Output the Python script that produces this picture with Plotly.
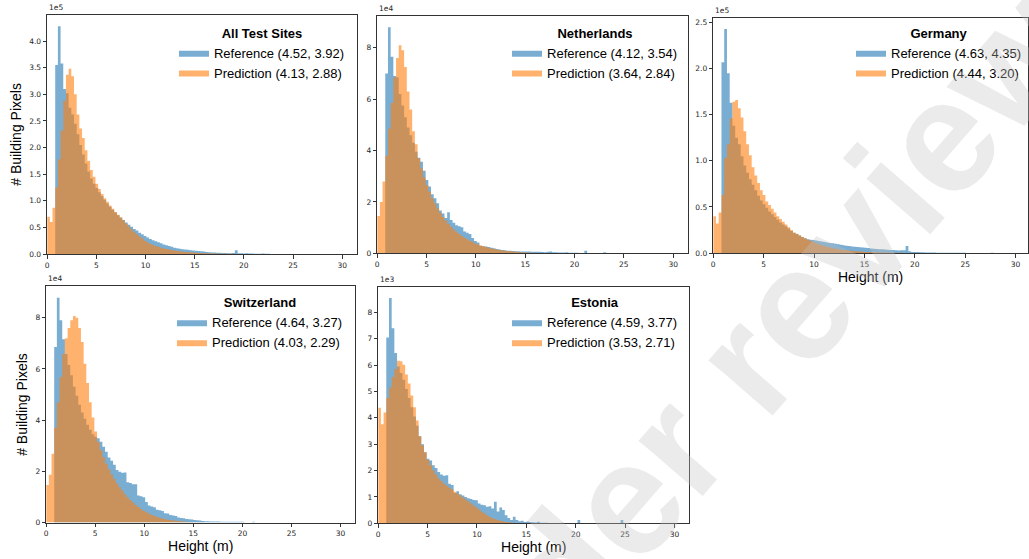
import numpy as np
import plotly.graph_objects as go

# ---------------- data (bin counts) ----------------
BIN_WIDTH = 30 / 110          # histogram bin width in metres
X_TICKS = [0, 5, 10, 15, 20, 25, 30]

panel_titles = ["All Test Sites", "Netherlands", "Germany", "Switzerland", "Estonia"]
ref_stats = ["(4.52, 3.92)", "(4.12, 3.54)", "(4.63, 4.35)", "(4.64, 3.27)", "(4.59, 3.77)"]
pred_stats = ["(4.13, 2.88)", "(3.64, 2.84)", "(4.44, 3.20)", "(4.03, 2.29)", "(3.53, 2.71)"]
scale_labels = ["1e5", "1e4", "1e5", "1e4", "1e3"]

y_ticks_all = [0, 0.5, 1.0, 1.5, 2.0, 2.5, 3.0, 3.5, 4.0]
y_ticks_nl = [0, 2, 4, 6, 8]
y_ticks_de = [0, 0.5, 1.0, 1.5, 2.0, 2.5]
y_ticks_ch = [0, 2, 4, 6, 8]
y_ticks_ee = [0, 1, 2, 3, 4, 5, 6, 7, 8]

# All test sites (x1e5)
all_ref = [0, 0, 0, 3.55, 4.28, 3.58, 3.10, 3.02, 2.75, 2.62, 2.45, 2.25, 2.05, 1.87, 1.70, 1.55,
           1.42, 1.32, 1.24, 1.16, 1.09, 1.02, 0.95, 0.89, 0.83, 0.78, 0.73, 0.68, 0.64, 0.59,
           0.55, 0.51, 0.47, 0.44, 0.40, 0.37, 0.34, 0.31, 0.28, 0.26, 0.24, 0.22, 0.20, 0.18,
           0.165, 0.15, 0.135, 0.12, 0.11, 0.10, 0.09, 0.085, 0.08, 0.072, 0.065, 0.06, 0.055,
           0.05, 0.045, 0.04, 0.035, 0.03, 0.028, 0.025, 0.022, 0.02, 0.018, 0.016, 0.014, 0.02,
           0.07, 0.015, 0.012, 0.01, 0.012, 0.01, 0.008, 0.006, 0.005, 0.004, 0.008, 0.004,
           0.003, 0.002, 0.001]
all_pred = [0.70, 0.60, 0.87, 1.25, 1.78, 2.32, 2.88, 3.37, 3.48, 3.34, 3.00, 2.62, 2.36, 2.18,
            1.95, 1.75, 1.58, 1.45, 1.32, 1.22, 1.13, 1.05, 0.98, 0.91, 0.85, 0.79, 0.74, 0.69,
            0.63, 0.57, 0.51, 0.46, 0.41, 0.37, 0.33, 0.29, 0.25, 0.22, 0.19, 0.17, 0.15, 0.135,
            0.12, 0.105, 0.095, 0.085, 0.075, 0.066, 0.058, 0.051, 0.045, 0.04, 0.035, 0.031,
            0.027, 0.024, 0.021, 0.018, 0.016, 0.014, 0.012, 0.01, 0.009, 0.008, 0.007, 0.006,
            0.005, 0.004, 0.0035, 0.003, 0.0025, 0.002, 0.0015, 0.001]

# Netherlands (x1e4)
nl_ref = [0, 0, 0, 7.0, 8.8, 7.65, 6.9, 6.85, 6.2, 5.75, 5.3, 4.9, 4.6, 4.3, 3.95, 3.72, 3.57,
          3.22, 2.86, 2.6, 2.3, 2.15, 1.95, 1.67, 1.55, 1.38, 1.6, 1.3, 1.19, 1.1, 1.06, 1.02,
          0.85, 0.8, 0.76, 0.6, 0.48, 0.42, 0.3, 0.28, 0.27, 0.25, 0.22, 0.2, 0.17, 0.15, 0.13,
          0.12, 0.1, 0.1, 0.09, 0.085, 0.08, 0.075, 0.07, 0.07, 0.07, 0.065, 0.06, 0.06, 0.06,
          0.055, 0.05, 0.06, 0.07, 0.05, 0.045, 0.04, 0.04, 0.035, 0.05, 0.03, 0.03, 0.025,
          0.025, 0.02, 0.02, 0.1, 0.02, 0.015, 0.015, 0.01, 0.01, 0.01, 0.05, 0.01, 0.005, 0.005]
nl_pred = [1.46, 2.0, 2.8, 3.8, 4.85, 5.85, 6.85, 7.6, 8.1, 7.9, 7.25, 6.3, 5.6, 4.75, 4.25, 3.7,
           3.3, 2.95, 2.65, 2.4, 2.15, 1.95, 1.75, 1.58, 1.42, 1.28, 1.15, 1.04, 0.93, 0.84,
           0.76, 0.68, 0.61, 0.55, 0.49, 0.44, 0.39, 0.35, 0.31, 0.28, 0.25, 0.22, 0.19, 0.17,
           0.15, 0.13, 0.115, 0.10, 0.09, 0.08, 0.07, 0.06, 0.052, 0.045, 0.04, 0.035, 0.03,
           0.026, 0.022, 0.019, 0.016, 0.014, 0.012, 0.01, 0.008, 0.007, 0.006, 0.005, 0.004, 0.003]

# Germany (x1e5)
de_ref = [0, 0, 0, 2.07, 2.43, 1.95, 1.63, 1.38, 1.25, 1.18, 1.05, 0.95, 0.87, 0.80, 0.74, 0.68,
          0.62, 0.57, 0.53, 0.49, 0.45, 0.42, 0.39, 0.36, 0.33, 0.31, 0.29, 0.265, 0.24, 0.22,
          0.205, 0.19, 0.175, 0.16, 0.15, 0.145, 0.14, 0.135, 0.13, 0.125, 0.12, 0.115, 0.11,
          0.105, 0.10, 0.095, 0.09, 0.085, 0.08, 0.075, 0.07, 0.068, 0.065, 0.062, 0.06, 0.057,
          0.054, 0.05, 0.047, 0.044, 0.042, 0.04, 0.038, 0.036, 0.034, 0.032, 0.03, 0.028, 0.03,
          0.03, 0.075, 0.02, 0.012, 0.01, 0.01, 0.008, 0.008, 0.006, 0.006, 0.005, 0.005, 0.004,
          0.004, 0.003, 0.003, 0.003, 0.002, 0.002, 0.002, 0.002, 0.002, 0.002, 0.001, 0.001,
          0.001, 0.001, 0.001, 0.001, 0.001, 0.001, 0.001, 0.004]
de_pred = [0.40, 0.32, 0.44, 0.63, 1.03, 1.18, 1.46, 1.64, 1.66, 1.57, 1.47, 1.32, 1.18, 1.06,
           0.93, 0.84, 0.76, 0.68, 0.63, 0.56, 0.52, 0.48, 0.44, 0.40, 0.37, 0.34, 0.31, 0.28,
           0.25, 0.22, 0.21, 0.19, 0.175, 0.16, 0.145, 0.13, 0.12, 0.105, 0.095, 0.085, 0.075,
           0.067, 0.06, 0.053, 0.047, 0.042, 0.037, 0.033, 0.029, 0.026, 0.023, 0.02, 0.018,
           0.016, 0.014, 0.012, 0.011, 0.01, 0.009, 0.008, 0.007, 0.006, 0.005, 0.0045, 0.004,
           0.0035, 0.003, 0.0025, 0.002, 0.0015, 0.001]

# Switzerland (x1e4)
ch_ref = [0, 0, 0, 6.85, 8.78, 7.9, 7.16, 6.58, 6.15, 5.75, 5.3, 4.95, 4.6, 4.3, 4.05, 3.82,
          3.62, 3.45, 3.35, 3.29, 3.16, 2.96, 2.77, 2.54, 2.41, 2.26, 2.05, 1.98, 1.95, 1.96,
          1.57, 1.55, 1.5, 1.5, 1.06, 1.03, 0.99, 0.8, 0.67, 0.63, 0.6, 0.5, 0.48, 0.45, 0.36,
          0.35, 0.30, 0.28, 0.26, 0.20, 0.18, 0.17, 0.14, 0.13, 0.12, 0.10, 0.09, 0.085, 0.06,
          0.055, 0.05, 0.045, 0.045, 0.04, 0.04, 0.035, 0.035, 0.03, 0.03, 0.03, 0.03, 0.03,
          0.03, 0.03, 0.005, 0.005, 0.005, 0.03, 0.003]
ch_pred = [1.47, 1.87, 2.69, 3.7, 4.7, 5.68, 6.58, 7.2, 7.6, 7.9, 8.06, 8.0, 7.6, 7.05, 6.2, 5.45,
           4.7, 4.1, 3.56, 3.15, 2.82, 2.55, 2.3, 2.08, 1.88, 1.7, 1.53, 1.38, 1.24, 1.11, 0.99,
           0.88, 0.78, 0.69, 0.61, 0.53, 0.46, 0.40, 0.35, 0.30, 0.26, 0.22, 0.19, 0.16, 0.135,
           0.115, 0.097, 0.082, 0.069, 0.058, 0.048, 0.04, 0.033, 0.027, 0.022, 0.018, 0.015,
           0.012, 0.01, 0.008, 0.006, 0.005, 0.004, 0.003, 0.002]

# Estonia (x1e3)
ee_ref = [0, 0, 0, 7.05, 8.55, 7.4, 6.46, 5.95, 5.7, 5.45, 5.1, 4.75, 4.4, 4.05, 3.7, 3.3, 3.0,
          2.7, 2.45, 2.38, 2.2, 2.1, 1.95, 1.85, 1.8, 1.82, 1.5, 1.45, 1.15, 1.22, 1.1, 1.05, 1.0,
          0.95, 0.92, 0.88, 0.87, 0.75, 0.7, 0.68, 0.63, 0.65, 0.56, 0.82, 0.45, 0.6, 0.5, 0.3,
          0.2, 0.12, 0.25, 0.12, 0.08, 0.1, 0.05, 0.07, 0.05, 0.04, 0.03, 0.06, 0.02, 0.02, 0.02,
          0.015, 0.015, 0.01, 0.01, 0.01, 0.02, 0.01, 0.005, 0.005, 0.005, 0.005, 0.12, 0.005,
          0, 0, 0, 0, 0, 0, 0, 0, 0, 0, 0, 0, 0, 0, 0.12]
ee_pred = [4.38, 3.76, 4.2, 4.75, 5.15, 5.55, 5.85, 6.17, 6.15, 6.02, 5.65, 5.3, 4.85, 4.4, 3.9,
           3.3, 2.95, 2.7, 2.4, 2.2, 2.0, 1.85, 1.7, 1.6, 1.5, 1.42, 1.35, 1.28, 1.2, 1.12, 1.05,
           0.98, 0.9, 0.83, 0.75, 0.67, 0.6, 0.52, 0.44, 0.37, 0.3, 0.24, 0.19, 0.15, 0.12, 0.09,
           0.07, 0.05, 0.04, 0.03, 0.02, 0.015, 0.01, 0.008, 0.005, 0.003]

ref_series = [all_ref, nl_ref, de_ref, ch_ref, ee_ref]
pred_series = [all_pred, nl_pred, de_pred, ch_pred, ee_pred]
y_tick_sets = [y_ticks_all, y_ticks_nl, y_ticks_de, y_ticks_ch, y_ticks_ee]
y_tick_fmt = [".1f", "d", ".1f", "d", "d"]

# ---------------- layout geometry (pixels of the 1029 x 559 canvas) ----------------
W, H = 1029, 559
# (left, right, top, bottom, x_max)
boxes = [
    (45.3, 356.0, 15.0, 256.3, 31.5),
    (376.3, 688.0, 16.0, 255.7, 31.5),
    (713.3, 1029.0, 18.0, 255.3, 31.23),
    (44.3, 354.3, 289.0, 527.3, 31.5),
    (377.3, 689.3, 289.3, 528.0, 31.5),
]
legend_pos = [(349, 21), (683, 21), (1028, 21), (347, 293), (683, 293)]

BLUE_FILL = "rgba(31,119,180,0.6)"
ORANGE_FILL = "rgba(255,127,14,0.6)"
AXC = "#333333"
TICK_FONT = dict(family="DejaVu Sans", size=7.5, color="#262626")
LABEL_FONT = dict(family="Liberation Sans, Arial, sans-serif", size=14, color="#000000")
LEG_FONT = dict(family="Liberation Sans, Arial, sans-serif", size=13, color="#000000")


def step_xy(values):
    """Histogram outline: bin left edges plus the final right edge (step 'hv')."""
    v = list(values)
    edges = np.arange(len(v) + 1) * BIN_WIDTH
    return edges, v + [v[-1]]


fig = go.Figure()
layout = dict(
    width=W, height=H, margin=dict(l=0, r=0, t=0, b=0),
    paper_bgcolor="white", plot_bgcolor="white", showlegend=True,
)
annotations = []

for k in range(5):
    idx = "" if k == 0 else str(k + 1)
    xa, ya = "x" + idx, "y" + idx
    leg = "legend" + idx
    left, right, top, bottom, xmax = boxes[k]

    for series, name, fill in ((ref_series[k], "Reference " + ref_stats[k], BLUE_FILL),
                               (pred_series[k], "Prediction " + pred_stats[k], ORANGE_FILL)):
        xs, ys = step_xy(series)
        fig.add_trace(go.Scatter(
            x=xs, y=ys, mode="lines", line=dict(shape="hv", width=0, color=fill),
            fill="tozeroy", fillcolor=fill, name=name,
            xaxis=xa, yaxis=ya, legend=leg, hoverinfo="x+y"))

    ymax = max(max(ref_series[k]), max(pred_series[k])) * 1.05
    xaxis = dict(
        domain=[left / W, right / W], range=[0, xmax], anchor=ya,
        showline=True, mirror=True, linecolor=AXC, linewidth=1,
        ticks="outside", ticklen=3.5, tickwidth=0.8, tickcolor=AXC,
        tickvals=X_TICKS, tickfont=TICK_FONT, showgrid=False, zeroline=False,
    )
    yaxis = dict(
        domain=[1 - bottom / H, 1 - top / H], range=[0, ymax], anchor=xa,
        showline=True, mirror=True, linecolor=AXC, linewidth=1,
        ticks="outside", ticklen=3.5, tickwidth=0.8, tickcolor=AXC,
        tickvals=y_tick_sets[k], tickformat=y_tick_fmt[k], tickfont=TICK_FONT,
        showgrid=False, zeroline=False,
    )
    if k in (0, 3):
        yaxis["title"] = dict(text="# Building Pixels", font=LABEL_FONT, standoff=4)
    if k in (2, 3, 4):
        xaxis["title"] = dict(text="Height (m)", font=LABEL_FONT, standoff=2)
    layout["xaxis" + idx] = xaxis
    layout["yaxis" + idx] = yaxis

    lx, ly = legend_pos[k]
    layout[leg] = dict(
        x=lx / W, xanchor="right", y=1 - ly / H, yanchor="top",
        bgcolor="rgba(0,0,0,0)", borderwidth=0, font=LEG_FONT,
        title=dict(text="<b>" + panel_titles[k] + "</b>", side="top center", font=LEG_FONT),
        tracegroupgap=0, itemwidth=30, traceorder="normal",
    )

    # matplotlib-style offset text ("1e5") above the y axis
    annotations.append(dict(
        text=scale_labels[k], xref="paper", yref="paper", x=left / W, y=1 - top / H,
        xanchor="left", yanchor="bottom", yshift=1, showarrow=False, font=TICK_FONT))

# "Under review" watermark (runs off the canvas, as in the source figure)
annotations.append(dict(
    text="<b>Under review</b>", xref="paper", yref="paper", x=721 / W, y=1 - 394 / H,
    xanchor="center", yanchor="middle", showarrow=False, textangle=-49,
    font=dict(family="Liberation Sans, Arial, sans-serif", size=160,
              color="rgba(195,195,195,0.33)")))

layout["annotations"] = annotations
fig.update_layout(**layout)
fig.write_html("out.html")
